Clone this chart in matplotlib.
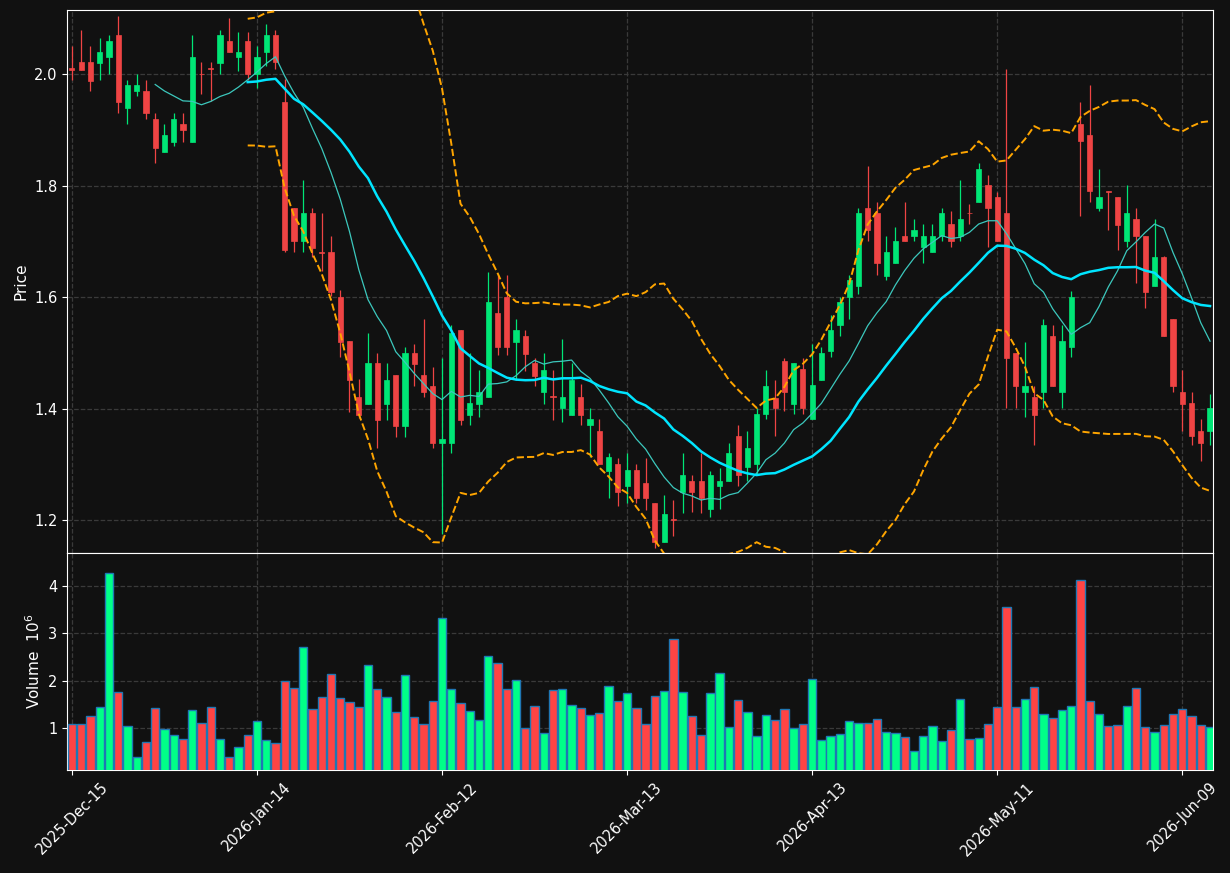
import numpy as np
import pandas as pd
import matplotlib
matplotlib.use("Agg")
import matplotlib.pyplot as plt

# OHLC (one entry per trading day)
opens = [2.011, 2.021, 2.021, 2.0195, 2.030, 2.070, 1.939, 1.969, 1.970, 1.920,
         1.860, 1.879, 1.911, 1.879, 2.0006, 2.010, 2.0195, 2.060, 2.030, 2.060,
         2.000, 2.039, 2.070, 1.950, 1.7596, 1.700, 1.751, 1.6815, 1.681, 1.601,
         1.522, 1.421, 1.409, 1.481, 1.409, 1.4606, 1.3693, 1.4996, 1.4606, 1.4404,
         1.339, 1.339, 1.5405, 1.3895, 1.409, 1.421, 1.5707, 1.601, 1.520, 1.530,
         1.481, 1.429, 1.4216, 1.401, 1.3895, 1.421, 1.3706, 1.360, 1.2888, 1.300,
         1.2604, 1.2894, 1.2673, 1.231, 1.160, 1.2013, 1.2497, 1.2699, 1.2699, 1.2195,
         1.2604, 1.2699, 1.3504, 1.295, 1.300, 1.390, 1.4197, 1.4858, 1.409, 1.4713,
         1.3807, 1.451, 1.5028, 1.550, 1.600, 1.6192, 1.7596, 1.7514, 1.6387, 1.6607,
         1.709, 1.709, 1.6903, 1.681, 1.709, 1.7312, 1.709, 1.7514, 1.7703, 1.8005,
         1.7797, 1.7514, 1.4996, 1.429, 1.421, 1.429, 1.5298, 1.429, 1.5097, 1.9106,
         1.8905, 1.7596, 1.7904, 1.7797, 1.6998, 1.7407, 1.709, 1.6192, 1.6714, 1.5613,
         1.4304, 1.4102, 1.360, 1.360]
highs = [2.050, 2.079, 2.050, 2.065, 2.070, 2.1045, 1.989, 2.000, 1.989, 1.9295,
         1.911, 1.9295, 1.9295, 2.070, 2.021, 2.021, 2.079, 2.1007, 2.0755, 2.0755,
         2.050, 2.090, 2.079, 1.992, 1.7596, 1.810, 1.7596, 1.751, 1.709, 1.612,
         1.522, 1.454, 1.536, 1.4996, 1.481, 1.4606, 1.511, 1.516, 1.560, 1.4745,
         1.490, 1.5506, 1.5405, 1.4996, 1.470, 1.645, 1.640, 1.640, 1.561, 1.5405,
         1.490, 1.4996, 1.470, 1.5248, 1.481, 1.4448, 1.401, 1.382, 1.320, 1.311,
         1.320, 1.300, 1.311, 1.231, 1.2447, 1.2359, 1.320, 1.2812, 1.320, 1.2888,
         1.2938, 1.339, 1.3706, 1.360, 1.401, 1.470, 1.451, 1.490, 1.481, 1.490,
         1.5154, 1.511, 1.5688, 1.600, 1.640, 1.7596, 1.835, 1.7703, 1.709, 1.7262,
         1.7703, 1.7407, 1.7312, 1.7312, 1.7596, 1.7545, 1.810, 1.767, 1.840, 1.8194,
         1.7879, 2.0094, 1.4996, 1.5204, 1.4398, 1.5613, 1.5506, 1.5506, 1.6116, 1.9496,
         1.9799, 1.830, 1.7904, 1.7797, 1.8005, 1.7596, 1.709, 1.7407, 1.6746, 1.5613,
         1.470, 1.4291, 1.3807, 1.4266]
lows = [1.989, 2.008, 1.969, 1.989, 2.000, 1.9295, 1.911, 1.960, 1.919, 1.841,
        1.860, 1.871, 1.879, 1.879, 1.964, 1.952, 2.000, 2.039, 2.005, 1.989,
        1.975, 2.0145, 2.009, 1.681, 1.681, 1.681, 1.6714, 1.646, 1.602, 1.492,
        1.3945, 1.383, 1.409, 1.330, 1.380, 1.350, 1.350, 1.440, 1.421, 1.330,
        1.1755, 1.320, 1.3706, 1.3706, 1.385, 1.421, 1.4965, 1.4965, 1.451, 1.467,
        1.4404, 1.409, 1.380, 1.3756, 1.3895, 1.3706, 1.3127, 1.300, 1.240, 1.2246,
        1.231, 1.231, 1.218, 1.150, 1.160, 1.171, 1.212, 1.2152, 1.213, 1.2057,
        1.2195, 1.2699, 1.261, 1.2699, 1.2812, 1.382, 1.3504, 1.3958, 1.390, 1.390,
        1.3807, 1.451, 1.492, 1.530, 1.561, 1.6054, 1.700, 1.640, 1.6305, 1.6607,
        1.6998, 1.6998, 1.6607, 1.681, 1.6998, 1.6903, 1.6998, 1.7312, 1.7703, 1.6903,
        1.6998, 1.4008, 1.4008, 1.385, 1.3347, 1.4008, 1.4398, 1.4008, 1.492, 1.7451,
        1.7703, 1.7545, 1.7205, 1.6853, 1.6903, 1.6255, 1.5802, 1.6192, 1.5298, 1.4291,
        1.360, 1.3347, 1.3064, 1.3347]
closes = [2.008, 2.008, 1.988, 2.040, 2.060, 1.950, 1.981, 1.981, 1.9295, 1.868,
          1.891, 1.920, 1.899, 2.031, 1.9994, 2.009, 2.070, 2.039, 2.040, 2.000,
          2.031, 2.070, 2.021, 1.684, 1.700, 1.751, 1.689, 1.680, 1.610, 1.520,
          1.451, 1.3895, 1.481, 1.380, 1.451, 1.3693, 1.4996, 1.4795, 1.429, 1.339,
          1.3454, 1.536, 1.380, 1.410, 1.430, 1.5915, 1.5097, 1.5097, 1.5405, 1.4984,
          1.4593, 1.470, 1.4203, 1.421, 1.451, 1.3895, 1.382, 1.300, 1.3127, 1.2497,
          1.2894, 1.240, 1.240, 1.160, 1.2113, 1.200, 1.2812, 1.2497, 1.240, 1.2812,
          1.2699, 1.320, 1.2812, 1.330, 1.390, 1.4404, 1.401, 1.429, 1.481, 1.401,
          1.4417, 1.5002, 1.5405, 1.5915, 1.6305, 1.7514, 1.720, 1.6607, 1.681, 1.701,
          1.6998, 1.7205, 1.709, 1.709, 1.7514, 1.6998, 1.7407, 1.750, 1.830, 1.7596,
          1.6998, 1.4902, 1.4398, 1.4404, 1.3895, 1.5506, 1.4398, 1.5216, 1.601, 1.8792,
          1.7898, 1.7797, 1.7891, 1.730, 1.7514, 1.709, 1.6098, 1.6714, 1.5298, 1.4398,
          1.409, 1.3504, 1.339, 1.401]
# volume in millions
volumes = [1.084, 1.084, 1.26, 1.443, 4.268, 1.759, 1.042, 0.389, 0.705, 1.42,
           0.979, 0.852, 0.768, 1.379, 1.112, 1.443, 0.768, 0.389, 0.60, 0.852,
           1.148, 0.747, 0.684, 1.991, 1.843, 2.708, 1.40, 1.66, 2.138, 1.632,
           1.548, 1.443, 2.328, 1.822, 1.654, 1.337, 2.117, 1.232, 1.084, 1.569,
           3.319, 1.822, 1.527, 1.358, 1.169, 2.518, 2.370, 1.822, 2.012, 1.0,
           1.464, 0.895, 1.801, 1.822, 1.485, 1.42, 1.274, 1.316, 1.885, 1.569,
           1.738, 1.42, 1.084, 1.675, 1.78, 2.876, 1.759, 1.253, 0.852, 1.738,
           2.16, 1.021, 1.59, 1.337, 0.831, 1.274, 1.169, 1.40, 1.0, 1.084,
           2.033, 0.747, 0.831, 0.873, 1.148, 1.105, 1.105, 1.19, 0.916, 0.895,
           0.81, 0.515, 0.831, 1.042, 0.726, 0.958, 1.611, 0.768, 0.789, 1.084,
           1.443, 3.551, 1.443, 1.611, 1.864, 1.295, 1.211, 1.379, 1.464, 4.12,
           1.569, 1.295, 1.042, 1.063, 1.464, 1.843, 1.021, 0.916, 1.063, 1.295,
           1.40, 1.253, 1.063, 1.021]
tick_labels = ["2025-Dec-15", "2026-Jan-14", "2026-Feb-12", "2026-Mar-13",
               "2026-Apr-13", "2026-May-11", "2026-Jun-09"]

BG = "#111111"
UP, DOWN = "#00e676", "#ef4444"
VUP, VDOWN = "#00ff88", "#ff4444"

df = pd.DataFrame({"o": opens, "h": highs, "l": lows, "c": closes, "v": volumes})
x = np.arange(len(df))
up = df["c"] >= df["o"]
ma10 = df["c"].rolling(10).mean()
ma20 = df["c"].rolling(20).mean()
sd20 = df["c"].rolling(20).std(ddof=0)

fig = plt.figure(figsize=(12.3, 8.73), dpi=100, facecolor=BG)
ax = fig.add_axes([0.0547, 0.3671, 0.9317, 0.6215], facecolor=BG)
axv = fig.add_axes([0.0547, 0.1180, 0.9317, 0.2491], facecolor=BG, sharex=ax)

cols = np.where(up, UP, DOWN)
ax.vlines(x, df["l"], df["h"], colors=cols, linewidth=0.9, zorder=3)
body = (df["c"] - df["o"]).abs().clip(lower=0.0015)
ax.bar(x, body, width=0.56, bottom=np.minimum(df["o"], df["c"]), color=cols,
       edgecolor=cols, linewidth=0.5, zorder=4)

ax.plot(x, ma10, color="#3cc8bd", linewidth=0.9, zorder=5)
ax.plot(x, ma20, color="#00e5ff", linewidth=1.8, zorder=5)
ax.plot(x, ma20 + 2 * sd20, color="orange", linestyle="--", linewidth=1.4, zorder=5)
ax.plot(x, ma20 - 2 * sd20, color="orange", linestyle="--", linewidth=1.4, zorder=5)

axv.bar(x, df["v"], width=0.9, color=np.where(up, VUP, VDOWN),
        edgecolor="#1f77b4", linewidth=1.0, zorder=3)

ax.set_xlim(-0.5, len(df) - 0.65)
ax.set_ylim(1.142, 2.115)
axv.set_ylim(0.3 * df["v"].min(), 1.1 * df["v"].max())

ticks = np.arange(0, len(df), 20)
axv.set_xticks(ticks)
axv.set_xticklabels(tick_labels, rotation=45, ha="center")
ax.tick_params(axis="x", labelbottom=False, length=0)
ax.set_yticks([1.2, 1.4, 1.6, 1.8, 2.0])
axv.set_yticks([1, 2, 3, 4])

for a in (ax, axv):
    a.grid(True, color="#3a3a3a", linestyle="--", linewidth=0.9)
    a.set_axisbelow(True)
    for s in a.spines.values():
        s.set_color("white")
    a.tick_params(colors="white", labelsize=10.5)

ax.set_ylabel("Price", color="white", fontsize=11)
axv.set_ylabel("Volume  $10^{6}$", color="white", fontsize=11)

fig.savefig("out.png", dpi=100, facecolor=BG)
